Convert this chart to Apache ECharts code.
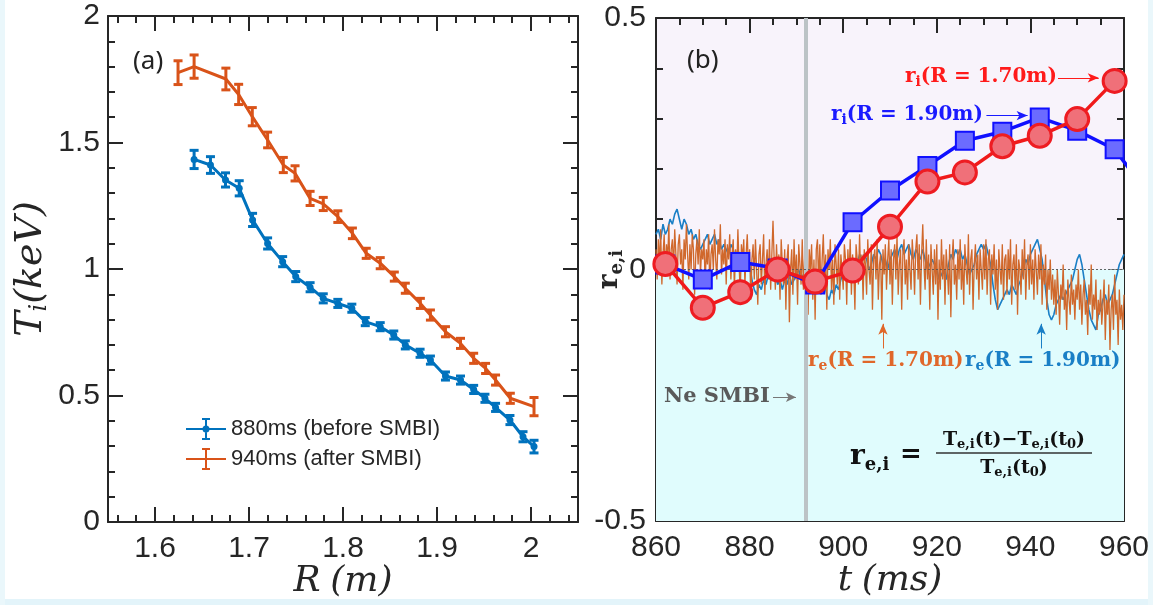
<!DOCTYPE html>
<html>
<head>
<meta charset="utf-8">
<script src="https://cdn.jsdelivr.net/npm/echarts@6/dist/echarts.min.js"></script>
<style>
  html, body { margin: 0; padding: 0; background: #ffffff; }
  #chart { width: 1153px; height: 605px; }
</style>
</head>
<body>
<div id="chart"></div>
<script>
// ---------- Panel (a): ion temperature profiles ----------
const rBefore = [1.6416, 1.659, 1.675, 1.6896, 1.7038, 1.7198, 1.7358, 1.7497, 1.765, 1.779, 1.7945, 1.8094, 1.8237,
  1.8396, 1.854, 1.8663, 1.882, 1.893, 1.909, 1.925, 1.939, 1.951, 1.9623, 1.9776, 1.9915, 2.0032];
const tiBefore = [1.433, 1.411, 1.352, 1.319, 1.194, 1.101, 1.029, 0.970, 0.928, 0.884, 0.864, 0.845, 0.792,
  0.772, 0.739, 0.700, 0.667, 0.640, 0.577, 0.561, 0.524, 0.489, 0.453, 0.403, 0.337, 0.298];
const errBefore = [0.036, 0.033, 0.028, 0.03, 0.026, 0.022, 0.02, 0.02, 0.018, 0.018, 0.016, 0.016, 0.016,
  0.016, 0.016, 0.016, 0.016, 0.016, 0.016, 0.016, 0.016, 0.016, 0.016, 0.018, 0.02, 0.025];

const rAfter = [1.6245, 1.6416, 1.6754, 1.689, 1.7035, 1.7198, 1.7365, 1.749, 1.765, 1.779, 1.7945, 1.810, 1.8247,
  1.8396, 1.8546, 1.8663, 1.8823, 1.893, 1.909, 1.925, 1.939, 1.9517, 1.9623, 1.978, 2.0032];
const tiAfter = [1.776, 1.80, 1.751, 1.690, 1.602, 1.510, 1.411, 1.378, 1.279, 1.257, 1.207, 1.141, 1.062,
  1.023, 0.970, 0.924, 0.864, 0.818, 0.752, 0.706, 0.647, 0.607, 0.561, 0.489, 0.456];
const errAfter = [0.047, 0.046, 0.043, 0.04, 0.036, 0.031, 0.03, 0.03, 0.028, 0.026, 0.023, 0.021, 0.02,
  0.022, 0.018, 0.02, 0.02, 0.02, 0.02, 0.02, 0.02, 0.02, 0.02, 0.02, 0.036];

const rMajorTicks = [1.6, 1.7, 1.8, 1.9, 2.0];
const rMinorTicks = [1.56, 1.58, 1.62, 1.64, 1.66, 1.68, 1.72, 1.74, 1.76, 1.78, 1.82, 1.84, 1.86, 1.88,
  1.92, 1.94, 1.96, 1.98, 2.02, 2.04];

// ---------- Panel (b): relative temperature change ----------
const tIon170 = [862, 870, 878, 886, 894, 902, 910, 918, 926, 934, 942, 950, 958];
const ri170 = [0.011, -0.076, -0.045, 0.0, -0.024, -0.002, 0.085, 0.175, 0.193, 0.245, 0.266, 0.299, 0.375];
const tIon190 = [862, 870, 878, 886, 894, 902, 910, 918, 926, 934, 942, 950, 958, 966];
const ri190 = [0.01, -0.02, 0.015, 0.002, -0.03, 0.094, 0.157, 0.206, 0.256, 0.274, 0.302, 0.276, 0.239, 0.14];

// electron traces, sampled uniformly from 860 ms
const reStart = 860;
const reStep170 = 0.25;
const re170 = [
  0.04,-0.02,0.06,0.01,0.08,-0.03,0.03,0.07,-0.01,0.05,0.02,0.09,-0.02,0.04,0.06,0.0,0.08,0.03,-0.03,0.05,
  0.07,0.01,0.04,-0.04,0.06,0.02,0.09,0.03,-0.02,0.05,0.0,0.07,0.04,-0.05,0.03,0.06,0.01,0.08,-0.01,0.04,
  0.02,0.06,-0.03,0.04,0.01,0.07,-0.04,0.03,0.05,0.0,0.08,0.02,-0.02,0.06,0.03,0.09,-0.01,0.04,0.01,0.06,
  -0.03,0.05,0.02,0.07,-0.02,0.03,0.06,-0.04,0.04,0.0,0.08,0.01,-0.05,0.05,0.02,0.06,-0.03,0.03,0.07,0.0,
  0.04,-0.06,0.02,0.05,-0.02,0.06,0.0,-0.07,0.03,0.05,-0.03,0.02,0.07,-0.05,0.01,0.04,-0.02,0.06,-0.04,0.03,
  0.097,0.02,-0.04,0.05,-0.01,0.03,-0.06,0.06,0.01,-0.03,0.04,-0.08,0.02,0.05,-0.105,0.0,0.04,-0.05,0.06,-0.02,
  0.03,-0.07,0.05,0.01,-0.03,0.06,-0.04,0.02,0.07,-0.02,-0.09,0.04,0.0,0.05,-0.06,0.02,-0.1,0.04,0.06,-0.03,
  0.05,-0.05,0.02,0.07,-0.02,0.03,-0.08,0.04,0.0,0.06,-0.04,0.02,-0.07,0.05,0.01,-0.03,0.04,-0.06,0.03,0.0,
  -0.04,0.05,0.02,-0.07,0.04,-0.01,0.06,-0.05,0.03,0.0,-0.08,0.05,0.02,-0.03,0.07,-0.02,0.03,-0.06,0.04,0.01,
  -0.05,0.06,0.0,-0.03,0.05,-0.08,0.02,0.04,-0.02,0.06,-0.06,0.01,0.03,-0.1,0.04,-0.01,0.05,-0.04,0.02,0.06,
  -0.03,0.04,-0.07,0.02,0.05,-0.02,0.07,-0.05,0.01,0.04,-0.08,0.03,0.06,-0.03,0.02,-0.06,0.05,0.0,-0.04,0.06,
  0.02,-0.05,0.04,0.07,-0.02,0.05,-0.07,0.03,0.09,0.01,-0.04,0.06,-0.02,0.03,-0.08,0.05,0.0,-0.05,0.04,-0.03,
  0.05,-0.1,0.02,-0.04,0.06,-0.02,0.03,-0.07,0.04,0.0,-0.05,0.05,-0.095,0.02,0.06,-0.03,0.01,-0.06,0.04,-0.02,
  0.06,-0.04,0.02,-0.07,0.05,0.0,-0.03,0.07,-0.05,0.02,0.04,-0.08,0.01,0.05,-0.02,0.03,-0.06,0.04,0.0,-0.04,
  0.05,-0.02,0.06,-0.05,0.02,0.04,-0.07,0.03,-0.01,0.05,-0.04,0.02,-0.08,0.04,0.0,-0.03,0.05,-0.06,0.02,0.03,
  -0.05,0.04,-0.02,0.06,-0.07,0.01,0.03,-0.04,0.05,-0.09,0.02,0.0,-0.05,0.04,-0.02,0.06,-0.06,0.01,0.03,-0.04,
  0.05,-0.03,0.02,-0.06,0.04,0.0,-0.05,0.03,-0.02,0.05,-0.07,0.01,-0.03,0.03,-0.08,0.0,-0.04,0.02,-0.06,-0.01,
  -0.07,-0.02,-0.09,0.0,-0.05,-0.11,-0.03,-0.06,0.01,-0.08,-0.04,-0.12,-0.02,-0.06,-0.09,-0.01,-0.07,-0.04,-0.1,-0.03,
  -0.06,0.0,-0.08,-0.03,-0.11,-0.05,-0.02,-0.09,-0.06,-0.13,-0.03,-0.07,0.01,-0.1,-0.05,-0.08,-0.02,-0.12,-0.06,-0.09,
  -0.04,-0.11,-0.07,-0.02,-0.14,-0.06,-0.09,-0.03,-0.16,-0.08,-0.05,-0.12,-0.01,-0.09,-0.06,-0.15,-0.04,-0.1,-0.07,-0.12,
  -0.05
];
const reStep190 = 0.5;
const re190 = [
  0.07,0.08,0.06,0.09,0.07,0.08,0.1,0.09,0.11,0.12,
  0.1,0.08,0.1,0.09,0.07,0.08,0.06,0.07,0.05,0.04,
  0.05,0.06,0.07,0.05,0.06,0.07,0.05,0.06,0.04,0.05,
  0.04,0.03,0.05,0.04,0.02,0.04,0.02,0.01,0.02,0.0,
  0.01,-0.02,-0.04,-0.05,-0.03,-0.04,-0.02,-0.03,-0.01,0.0,
  -0.02,-0.01,-0.03,-0.02,-0.04,-0.02,-0.03,-0.01,-0.03,-0.02,
  -0.01,0.0,-0.02,-0.01,-0.03,-0.02,-0.04,-0.03,-0.02,-0.03,
  -0.02,-0.04,-0.03,-0.05,-0.06,-0.04,-0.05,-0.03,-0.04,-0.02,
  -0.01,-0.02,0.0,0.01,0.02,0.0,0.01,0.03,0.02,0.03,
  0.02,0.0,0.01,0.03,0.02,0.04,0.03,0.01,0.02,0.0,
  0.02,0.03,0.04,0.02,0.04,0.05,0.03,0.04,0.05,0.03,
  0.02,0.04,0.03,0.02,0.04,0.02,0.0,0.01,0.02,0.01,
  0.0,-0.02,-0.01,0.0,-0.02,0.01,0.03,0.02,0.04,0.03,
  0.04,0.02,0.03,0.01,-0.01,0.0,0.01,0.03,0.04,0.05,
  0.04,0.05,0.03,0.01,-0.03,-0.06,-0.08,-0.07,-0.06,-0.05,
  -0.04,-0.05,-0.03,-0.04,-0.05,-0.03,-0.02,0.0,0.02,0.01,
  0.03,0.04,0.05,0.06,0.04,0.02,-0.02,-0.06,-0.09,-0.1,
  -0.09,-0.07,-0.06,-0.05,-0.06,-0.05,-0.04,-0.03,-0.02,0.0,
  0.02,0.03,0.01,-0.02,-0.05,-0.08,-0.1,-0.11,-0.12,-0.09,
  -0.08,-0.06,-0.05,-0.07,-0.06,-0.05,-0.03,-0.01,0.01,0.02,
  0.03
];
const smbiTime = 892;

// ---------- styling ----------
const INK = '#262626';
const BLUE_A = '#0072BD';
const ORANGE_A = '#D95319';
const SANS = 'Liberation Sans, Arial, sans-serif';
const SERIF = 'DejaVu Serif, serif';

const zip = (xs, ys) => xs.map((x, i) => [x, ys[i]]);
const sampled = (start, step, ys) => ys.map((y, i) => [start + i * step, y]);
const withErr = (xs, ys, es) => xs.map((x, i) => [x, ys[i] - es[i], ys[i] + es[i]]);

function errorBars(color, capHalf, width) {
  return function (params, api) {
    const x = api.value(0);
    const lo = api.coord([x, api.value(1)]);
    const hi = api.coord([x, api.value(2)]);
    const style = { stroke: color, lineWidth: width };
    return {
      type: 'group',
      children: [
        { type: 'line', shape: { x1: hi[0], y1: hi[1], x2: lo[0], y2: lo[1] }, style },
        { type: 'line', shape: { x1: hi[0] - capHalf, y1: hi[1], x2: hi[0] + capHalf, y2: hi[1] }, style },
        { type: 'line', shape: { x1: lo[0] - capHalf, y1: lo[1], x2: lo[0] + capHalf, y2: lo[1] }, style }
      ]
    };
  };
}

const axisLine = { show: true, onZero: false, lineStyle: { color: INK, width: 2 } };
const tickStyle = { color: INK, width: 2 };
const tickLabel = { color: INK, fontSize: 30, fontFamily: SANS };

function frame(grid, pos, extra) {
  return Object.assign({
    gridIndex: grid, type: 'value', position: pos,
    axisLine: axisLine, splitLine: { show: false },
    axisLabel: { show: false }, nameMoveOverlap: false
  }, extra);
}

const rMajorTick = { show: true, inside: true, length: 15, lineStyle: tickStyle, customValues: rMajorTicks };
const rMinorTick = { show: true, inside: true, length: 7, lineStyle: tickStyle, customValues: rMinorTicks };
const noLine = { show: false, onZero: false };
const italicName = {
  rich: {
    it: { fontFamily: SERIF, fontStyle: 'italic', fontSize: 36, color: INK },
    gap: { fontFamily: SERIF, fontSize: 30 }
  }
};

const xAxes = [
  // panel (a)
  frame(0, 'bottom', {
    min: 1.55, max: 2.05, axisTick: rMajorTick,
    axisLabel: Object.assign({ show: true, margin: 12, customValues: rMajorTicks }, tickLabel),
    name: '{it|R}{gap|\u00a0}{it|(m)}', nameLocation: 'middle', nameGap: 42, nameTextStyle: italicName
  }),
  frame(0, 'bottom', { min: 1.55, max: 2.05, axisLine: noLine, axisTick: rMinorTick }),
  frame(0, 'top', { min: 1.55, max: 2.05, axisTick: rMajorTick }),
  frame(0, 'top', { min: 1.55, max: 2.05, axisLine: noLine, axisTick: rMinorTick }),
  // panel (b)
  frame(1, 'bottom', {
    min: 860, max: 960, interval: 20,
    axisTick: { show: true, inside: true, length: 15, lineStyle: tickStyle },
    minorTick: { show: true, splitNumber: 4, length: 7, lineStyle: tickStyle },
    axisLabel: Object.assign({ show: true, margin: 12 }, tickLabel),
    name: '{it|t}{gap|\u00a0}{it|(ms)}', nameLocation: 'middle', nameGap: 42, nameTextStyle: italicName
  }),
  frame(1, 'top', {
    min: 860, max: 960, interval: 20,
    axisTick: { show: true, inside: true, length: 15, lineStyle: tickStyle },
    minorTick: { show: true, splitNumber: 4, length: 7, lineStyle: tickStyle }
  })
];

const yAxes = [
  frame(0, 'left', {
    min: 0, max: 2, interval: 0.5,
    axisTick: { show: true, inside: true, length: 15, lineStyle: tickStyle },
    minorTick: { show: true, splitNumber: 5, length: 7, lineStyle: tickStyle },
    axisLabel: Object.assign({ show: true, margin: 8 }, tickLabel),
    name: '{it|T}{sub|i}{it|(keV)}', nameLocation: 'middle', nameGap: 56, nameRotate: 90,
    nameTextStyle: { rich: {
      it: { fontFamily: SERIF, fontStyle: 'italic', fontSize: 38, color: INK },
      sub: { fontFamily: SERIF, fontStyle: 'italic', fontSize: 24, color: INK, padding: [18, 0, 0, 0] }
    } }
  }),
  frame(0, 'right', {
    min: 0, max: 2, interval: 0.5,
    axisTick: { show: true, inside: true, length: 15, lineStyle: tickStyle },
    minorTick: { show: true, splitNumber: 5, length: 7, lineStyle: tickStyle }
  }),
  frame(1, 'left', {
    min: -0.5, max: 0.5, interval: 0.5,
    axisTick: { show: true, inside: true, length: 15, lineStyle: tickStyle },
    minorTick: { show: true, splitNumber: 5, length: 7, lineStyle: tickStyle },
    axisLabel: Object.assign({ show: true, margin: 10 }, tickLabel),
    name: '{r|r}{sub|e,i}', nameLocation: 'middle', nameGap: 30, nameRotate: 90,
    nameTextStyle: { rich: {
      r: { fontFamily: SERIF, fontWeight: 'bold', fontSize: 28, color: INK },
      sub: { fontFamily: SERIF, fontWeight: 'bold', fontSize: 18, color: INK, padding: [14, 0, 0, 0] }
    } }
  }),
  frame(1, 'right', {
    min: -0.5, max: 0.5, interval: 0.5,
    axisTick: { show: true, inside: true, length: 15, lineStyle: tickStyle },
    minorTick: { show: true, splitNumber: 5, length: 7, lineStyle: tickStyle }
  })
];

const iconBefore = 'path://M0,10H40V12H0Z M19,0H21V22H19Z M16,0H24V2H16Z M16,20H24V22H16Z M20,7.5A3.5,3.5,0,1,1,20,14.5A3.5,3.5,0,1,1,20,7.5Z';
const iconAfter = 'path://M0,10H40V12H0Z M19,0H21V22H19Z M16,0H24V2H16Z M16,20H24V22H16Z';

// annotation helper (pixel placement inside panel b)
function label(x, y, parts, color, size) {
  const rich = {
    m: { fontFamily: SERIF, fontWeight: 'bold', fontSize: size, fill: color },
    s: { fontFamily: SERIF, fontWeight: 'bold', fontSize: Math.round(size * 0.7), fill: color, padding: [Math.round(size * 0.55), 0, 0, 0] }
  };
  return { type: 'text', x, y, z: 50, style: { text: parts, rich, verticalAlign: 'middle', align: 'left' } };
}

const option = {
  animation: false,
  backgroundColor: '#ffffff',
  grid: [
    { left: 108, top: 16, width: 470, height: 506 },
    { left: 656, top: 18, width: 468, height: 503, show: true, backgroundColor: '#f8f3fb', borderWidth: 0 }
  ],
  xAxis: xAxes,
  yAxis: yAxes,
  legend: {
    left: 181, top: 413, orient: 'vertical', itemGap: 8, itemWidth: 40, itemHeight: 22,
    selectedMode: false,
    textStyle: { fontSize: 22, fontFamily: SANS, color: INK },
    data: [
      { name: '880ms (before SMBI)', icon: iconBefore },
      { name: '940ms (after SMBI)', icon: iconAfter }
    ]
  },
  series: [
    {
      name: '880ms (before SMBI)', type: 'line', xAxisIndex: 0, yAxisIndex: 0,
      data: zip(rBefore, tiBefore), color: BLUE_A,
      symbol: 'circle', symbolSize: 7, lineStyle: { width: 3 }, z: 3
    },
    {
      name: '940ms (after SMBI)', type: 'line', xAxisIndex: 0, yAxisIndex: 0,
      data: zip(rAfter, tiAfter), color: ORANGE_A,
      symbol: 'none', lineStyle: { width: 3 }, z: 3
    },
    {
      name: 'err880', type: 'custom', xAxisIndex: 0, yAxisIndex: 0,
      data: withErr(rBefore, tiBefore, errBefore), renderItem: errorBars(BLUE_A, 4.5, 3), z: 4
    },
    {
      name: 'err940', type: 'custom', xAxisIndex: 0, yAxisIndex: 0,
      data: withErr(rAfter, tiAfter, errAfter), renderItem: errorBars(ORANGE_A, 4.5, 3), z: 4
    },
    // panel (b) lower-half shading
    {
      name: 'shade', type: 'line', xAxisIndex: 4, yAxisIndex: 2, data: [[860, 0]],
      symbol: 'none', lineStyle: { opacity: 0 }, z: 1, silent: true,
      markArea: { silent: true, itemStyle: { color: '#e0fcfd' }, data: [[{ yAxis: -0.5 }, { yAxis: 0 }]] }
    },
    {
      name: 're190', type: 'line', xAxisIndex: 4, yAxisIndex: 2,
      data: sampled(reStart, reStep190, re190), symbol: 'none',
      lineStyle: { width: 1.6, color: '#1a7fc6' }, z: 2
    },
    {
      name: 're170', type: 'line', xAxisIndex: 4, yAxisIndex: 2,
      data: sampled(reStart, reStep170, re170), symbol: 'none',
      lineStyle: { width: 1.3, color: '#d0682c' }, z: 3
    },
    {
      name: 'guides', type: 'line', xAxisIndex: 4, yAxisIndex: 2, data: [[860, 0]],
      symbol: 'none', lineStyle: { opacity: 0 }, z: 4, silent: true,
      markLine: {
        silent: true, symbol: ['none', 'none'], label: { show: false }, animation: false,
        data: [
          { xAxis: smbiTime, lineStyle: { color: '#bcc3c6', width: 4, type: 'solid' } },
          { yAxis: 0, lineStyle: { color: '#555555', width: 0.9, type: [2, 2] } },
          [{ coord: [945.9, 0.381], symbol: 'none', lineStyle: { color: '#ff1a1a', width: 1, type: 'solid' } },
           { coord: [954.6, 0.381], symbol: 'arrow', symbolSize: [7, 11] }],
          [{ coord: [930.6, 0.306], symbol: 'none', lineStyle: { color: '#1a1aff', width: 1, type: 'solid' } },
           { coord: [939.4, 0.306], symbol: 'arrow', symbolSize: [7, 11] }],
          [{ coord: [908.5, -0.157], symbol: 'none', lineStyle: { color: '#e0672a', width: 1, type: 'solid' } },
           { coord: [908.5, -0.108], symbol: 'arrow', symbolSize: [7, 11] }],
          [{ coord: [942.3, -0.157], symbol: 'none', lineStyle: { color: '#1a7fc6', width: 1, type: 'solid' } },
           { coord: [942.3, -0.108], symbol: 'arrow', symbolSize: [7, 11] }],
          [{ coord: [885.0, -0.254], symbol: 'none', lineStyle: { color: '#777777', width: 1, type: 'solid' } },
           { coord: [889.9, -0.254], symbol: 'arrow', symbolSize: [7, 10] }]
        ]
      }
    },
    {
      name: 'ri190', type: 'line', xAxisIndex: 4, yAxisIndex: 2,
      data: zip(tIon190, ri190), symbol: 'rect', symbolSize: 18,
      lineStyle: { width: 3.5, color: '#1010ff' },
      itemStyle: { color: '#6b6bff', borderColor: '#1010ff', borderWidth: 2 }, z: 5
    },
    {
      name: 'ri170', type: 'line', xAxisIndex: 4, yAxisIndex: 2,
      data: zip(tIon170, ri170), symbol: 'circle', symbolSize: 23,
      lineStyle: { width: 3.5, color: '#f01a1a' },
      itemStyle: { color: '#f07079', borderColor: '#ee1c22', borderWidth: 3 }, z: 6
    }
  ],
  graphic: [
    { type: 'text', x: 133, y: 62, z: 50, style: { text: '(a)', font: '26px Noto Sans, sans-serif', fill: '#222', verticalAlign: 'middle' } },
    { type: 'text', x: 687, y: 61, z: 50, style: { text: '(b)', font: '26px Noto Sans, sans-serif', fill: '#222', verticalAlign: 'middle' } },
    label(905, 77, '{m|r}{s|i}{m|(R = 1.70m)}', '#ff1a1a', 20),
    label(831, 115, '{m|r}{s|i}{m|(R = 1.90m)}', '#1a1aff', 20),
    label(808, 361, '{m|r}{s|e}{m|(R = 1.70m)}', '#e0672a', 20),
    label(965, 361, '{m|r}{s|e}{m|(R = 1.90m)}', '#1a7fc6', 20),
    { type: 'text', x: 664, y: 397, z: 50, style: { text: 'Ne SMBI', font: 'bold 21px DejaVu Serif, serif', fill: '#5a5a5a', verticalAlign: 'middle' } },
    // defining formula
    {
      type: 'text', x: 850, y: 457, z: 50,
      style: {
        text: '{m|r}{s|e,i}', verticalAlign: 'middle',
        rich: {
          m: { fontFamily: SERIF, fontWeight: 'bold', fontSize: 28, fill: '#111' },
          s: { fontFamily: SERIF, fontWeight: 'bold', fontSize: 18, fill: '#111', padding: [16, 0, 0, 0] }
        }
      }
    },
    { type: 'text', x: 900, y: 455, z: 50, style: { text: '=', font: 'bold 26px DejaVu Serif, serif', fill: '#111', verticalAlign: 'middle' } },
    {
      type: 'text', x: 1014, y: 440, z: 50,
      style: {
        text: '{m|T}{s|e,i}{m|(t)−T}{s|e,i}{m|(t}{s|0}{m|)}', verticalAlign: 'middle', align: 'center',
        rich: {
          m: { fontFamily: SERIF, fontWeight: 'bold', fontSize: 19, fill: '#111' },
          s: { fontFamily: SERIF, fontWeight: 'bold', fontSize: 13, fill: '#111', padding: [10, 0, 0, 0] }
        }
      }
    },
    { type: 'line', z: 50, shape: { x1: 936, y1: 453, x2: 1092, y2: 453 }, style: { stroke: '#333', lineWidth: 1.3 } },
    {
      type: 'text', x: 1014, y: 468, z: 50,
      style: {
        text: '{m|T}{s|e,i}{m|(t}{s|0}{m|)}', verticalAlign: 'middle', align: 'center',
        rich: {
          m: { fontFamily: SERIF, fontWeight: 'bold', fontSize: 19, fill: '#111' },
          s: { fontFamily: SERIF, fontWeight: 'bold', fontSize: 13, fill: '#111', padding: [10, 0, 0, 0] }
        }
      }
    },
    // soft cyan edge of the figure canvas
    { type: 'rect', z: 0, shape: { x: 0, y: 599, width: 1153, height: 6 }, style: { fill: '#e3f4fa' } },
    { type: 'rect', z: 0, shape: { x: 0, y: 0, width: 5, height: 605 }, style: { fill: '#eaf7fb' } },
    { type: 'rect', z: 0, shape: { x: 1148, y: 0, width: 5, height: 605 }, style: { fill: '#eaf7fb' } }
  ]
};

const chart = echarts.init(document.getElementById('chart'), null, { renderer: 'canvas' });
chart.setOption(option);
</script>
</body>
</html>
